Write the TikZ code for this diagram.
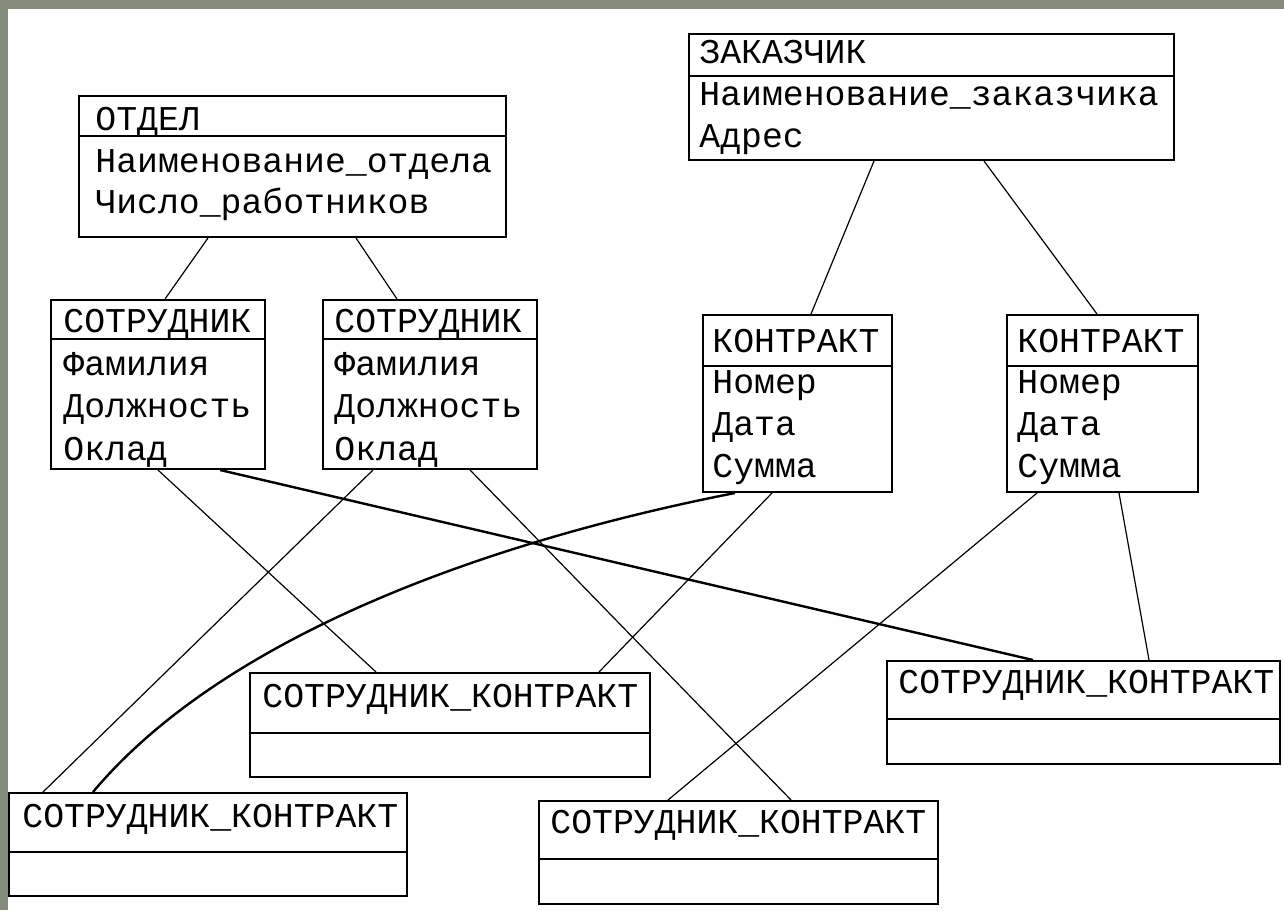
\documentclass[tikz,border=0pt]{standalone}
\usepackage{fontspec}
\setmonofont{Liberation Mono}
\usetikzlibrary{fit}
\definecolor{slidegray}{RGB}{135,139,125}

\begin{document}
\begin{tikzpicture}[x=0.5pt,y=-0.5pt,
    ent/.style={draw, line width=1pt, inner sep=0pt},
    sep/.style={line width=1pt},
    lbl/.style={anchor=base west, inner sep=0pt, font=\ttfamily\fontsize{17.4}{20}\selectfont},
    link/.style={line width=0.6pt},
    boldlink/.style={line width=1.2pt}]
      \useasboundingbox (0,0) rectangle (1284,910);
      \fill[slidegray] (0,0) rectangle (1284,910);
      \fill[white] (8,9) rectangle (1284,910);
      % ОТДЕЛ
      \node[ent, fit={(79,96) (506,237)}] (otdel) {};
      \draw[sep] (otdel.west |- 0,136) -- (otdel.east |- 0,136);
      \node[lbl] (otdel-t) at (95,130) {ОТДЕЛ};
      \node[lbl] (otdel-a) at (95,172) {Наименование\_отдела};
      \node[lbl] (otdel-b) at (95,213) {Число\_работников};
      % СОТРУДНИК
      \node[ent, fit={(51,300) (265,469)}] (sotr1) {};
      \draw[sep] (sotr1.west |- 0,339) -- (sotr1.east |- 0,339);
      \node[lbl] (sotr1-t) at (63,332) {СОТРУДНИК};
      \node[lbl] (sotr1-a) at (63,375) {Фамилия};
      \node[lbl] (sotr1-b) at (63,417) {Должность};
      \node[lbl] (sotr1-c) at (63,460) {Оклад};
      \node[ent, fit={(323,300) (537,469)}] (sotr2) {};
      \draw[sep] (sotr2.west |- 0,339) -- (sotr2.east |- 0,339);
      \node[lbl] (sotr2-t) at (334,332) {СОТРУДНИК};
      \node[lbl] (sotr2-a) at (334,375) {Фамилия};
      \node[lbl] (sotr2-b) at (334,417) {Должность};
      \node[lbl] (sotr2-c) at (334,460) {Оклад};
      % ЗАКАЗЧИК
      \node[ent, fit={(689,34) (1174,160)}] (zak) {};
      \draw[sep] (zak.west |- 0,76) -- (zak.east |- 0,76);
      \node[lbl] (zak-t) at (699,63) {ЗАКАЗЧИК};
      \node[lbl] (zak-a) at (699,105) {Наименование\_заказчика};
      \node[lbl] (zak-b) at (699,147) {Адрес};
      % КОНТРАКТ
      \node[ent, fit={(703,315) (892,492)}] (kontr1) {};
      \draw[sep] (kontr1.west |- 0,366) -- (kontr1.east |- 0,366);
      \node[lbl] (kontr1-t) at (712,352) {КОНТРАКТ};
      \node[lbl] (kontr1-a) at (712,393) {Номер};
      \node[lbl] (kontr1-b) at (712,435) {Дата};
      \node[lbl] (kontr1-c) at (712,477) {Сумма};
      \node[ent, fit={(1007,315) (1198,492)}] (kontr2) {};
      \draw[sep] (kontr2.west |- 0,366) -- (kontr2.east |- 0,366);
      \node[lbl] (kontr2-t) at (1017,352) {КОНТРАКТ};
      \node[lbl] (kontr2-a) at (1017,393) {Номер};
      \node[lbl] (kontr2-b) at (1017,435) {Дата};
      \node[lbl] (kontr2-c) at (1017,477) {Сумма};
      % СОТРУДНИК_КОНТРАКТ
      \node[ent, fit={(250,673) (650,777)}] (skA) {};
      \draw[sep] (skA.west |- 0,733) -- (skA.east |- 0,733);
      \node[lbl] (skA-t) at (262,707) {СОТРУДНИК\_КОНТРАКТ};
      \node[ent, fit={(9,793) (407,896)}] (skB) {};
      \draw[sep] (skB.west |- 0,852) -- (skB.east |- 0,852);
      \node[lbl] (skB-t) at (22,827) {СОТРУДНИК\_КОНТРАКТ};
      \node[ent, fit={(539,801) (938,904)}] (skC) {};
      \draw[sep] (skC.west |- 0,859) -- (skC.east |- 0,859);
      \node[lbl] (skC-t) at (550,833) {СОТРУДНИК\_КОНТРАКТ};
      \node[ent, fit={(887,661) (1280,764)}] (skD) {};
      \draw[sep] (skD.west |- 0,719) -- (skD.east |- 0,719);
      \node[lbl] (skD-t) at (898,693) {СОТРУДНИК\_КОНТРАКТ};
      % links
      \draw[link] (otdel.south -| 208,0) -- (sotr1.north -| 165,0);
      \draw[link] (otdel.south -| 356,0) -- (sotr2.north -| 397,0);
      \draw[link] (zak.south -| 874,0) -- (kontr1.north -| 811,0);
      \draw[link] (zak.south -| 984,0) -- (kontr2.north -| 1097,0);
      \draw[link] (sotr1.south -| 158,0) -- (skA.north -| 376,0);
      \draw[boldlink] (sotr1.south -| 220,0) -- (skD.north -| 1033,0);
      \draw[link] (sotr2.south -| 373,0) -- (skB.north -| 43,0);
      \draw[link] (sotr2.south -| 470,0) -- (skC.north -| 791,0);
      \draw[boldlink] (kontr1.south -| 735,0) .. controls (485,542) and (223,637) .. (skB.north -| 93,0);
      \draw[link] (kontr1.south -| 772,0) -- (skA.north -| 599,0);
      \draw[link] (kontr2.south -| 1037,0) -- (skC.north -| 668,0);
      \draw[link] (kontr2.south -| 1119,0) -- (skD.north -| 1149,0);
\end{tikzpicture}
\end{document}
